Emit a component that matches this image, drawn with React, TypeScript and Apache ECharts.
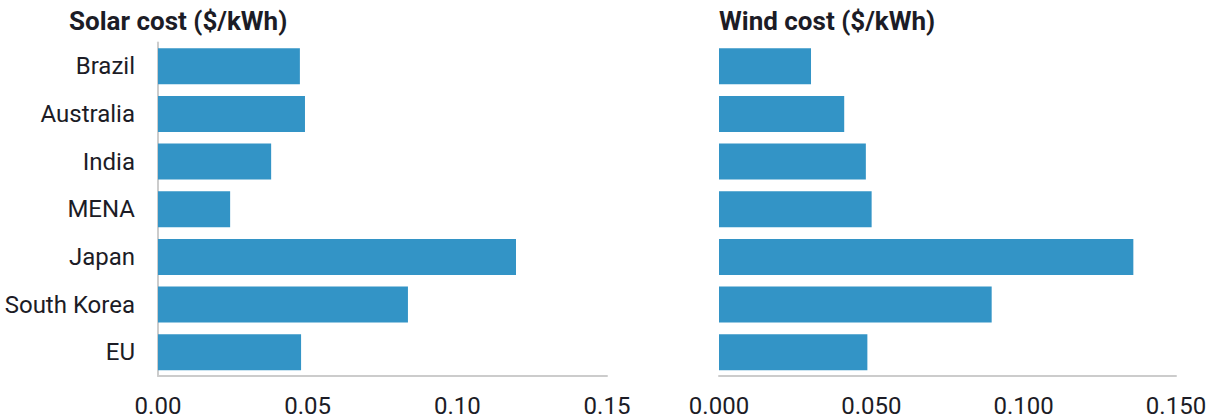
import React, { useEffect, useRef } from "react";
import * as echarts from "echarts";

const categories = ["Brazil", "Australia", "India", "MENA", "Japan", "South Korea", "EU"];
const solarCost = [0.0474, 0.0491, 0.0378, 0.0241, 0.1196, 0.0835, 0.0478];
const windCost = [0.0302, 0.0411, 0.0482, 0.0501, 0.136, 0.0895, 0.0487];
const solarTicks = { min: 0, max: 0.15, interval: 0.05, decimals: 2 };
const windTicks = { min: 0, max: 0.15, interval: 0.05, decimals: 3 };

const FONT = "Roboto";
const TEXT = "#1c1c26";
const BAR = "#3394c6";
const AXIS = "#cccccc";

export default function App() {
  const ref = useRef<HTMLDivElement>(null);
  useEffect(() => {
    if (!ref.current) return;
    const chart = echarts.init(ref.current, null, { renderer: "svg" });
    const xAxisCommon = (t: typeof solarTicks, gridIndex: number) => ({
      type: "value",
      gridIndex,
      min: t.min,
      max: t.max,
      interval: t.interval,
      splitLine: { show: false },
      axisTick: { show: false },
      axisLine: { show: true, lineStyle: { color: AXIS, width: 2 } },
      axisLabel: {
        color: TEXT,
        fontFamily: FONT,
        fontSize: 24,
        margin: 18,
        formatter: (v: number) => v.toFixed(t.decimals),
      },
    });
    const titleStyle = { fontFamily: FONT, fontWeight: "bold", fontSize: 26, color: TEXT };
    chart.setOption({
      animation: false,
      title: [
        { text: "Solar cost ($/kWh)", left: 69, top: 8, padding: 0, textStyle: titleStyle },
        { text: "Wind cost ($/kWh)", left: 719, top: 8, padding: 0, textStyle: titleStyle },
      ],
      grid: [
        { left: 158, right: 608, top: 42.5, bottom: 43, containLabel: false },
        { left: 719, right: 39, top: 42.5, bottom: 43, containLabel: false },
      ],
      xAxis: [xAxisCommon(solarTicks, 0), xAxisCommon(windTicks, 1)],
      yAxis: [
        {
          type: "category",
          gridIndex: 0,
          data: categories,
          inverse: true,
          axisTick: { show: false },
          axisLine: { show: true, lineStyle: { color: AXIS, width: 2 } },
          axisLabel: { color: TEXT, fontFamily: FONT, fontSize: 24, margin: 23 },
        },
        {
          type: "category",
          gridIndex: 1,
          data: categories,
          inverse: true,
          axisTick: { show: false },
          axisLine: { show: false },
          axisLabel: { show: false },
        },
      ],
      series: [
        {
          type: "bar",
          xAxisIndex: 0,
          yAxisIndex: 0,
          data: solarCost,
          barCategoryGap: "24.5%",
          itemStyle: { color: BAR },
        },
        {
          type: "bar",
          xAxisIndex: 1,
          yAxisIndex: 1,
          data: windCost,
          barCategoryGap: "24.5%",
          itemStyle: { color: BAR },
        },
      ],
    });
    return () => chart.dispose();
  }, []);
  return (
    <div
      ref={ref}
      style={{ position: "fixed", left: 0, top: 0, width: 1215, height: 419, background: "#fff" }}
    />
  );
}
